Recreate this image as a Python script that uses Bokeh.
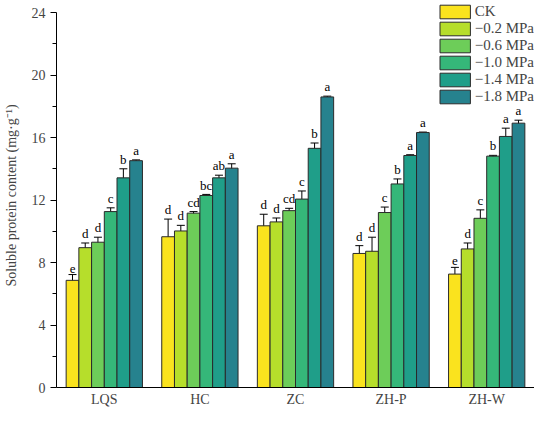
from bokeh.plotting import figure
from bokeh.models import (ColumnDataSource, FactorRange, Whisker, TeeHead, Legend,
                          LegendItem, Range1d, FixedTicker)
from bokeh.transform import dodge
from bokeh.core.properties import value
from bokeh.embed import file_html
from bokeh.resources import INLINE

sites = ["LQS", "HC", "ZC", "ZH-P", "ZH-W"]
treatments = ["CK", "\u22120.2 MPa", "\u22120.6 MPa", "\u22121.0 MPa", "\u22121.4 MPa", "\u22121.8 MPa"]
colors = ["#FAE31E", "#B6DE2B", "#6DCD59", "#35B779", "#1F9E89", "#26828E"]
yticks = [0, 4, 8, 12, 16, 20, 24]

means = {
    "CK":   [6.86, 9.65, 10.35, 8.58, 7.26],
    "m02":  [8.95, 10.02, 10.60, 8.72, 8.87],
    "m06":  [9.30, 11.16, 11.32, 11.20, 10.83],
    "m10":  [11.26, 12.29, 12.06, 13.03, 14.81],
    "m14":  [13.42, 13.42, 15.31, 14.85, 16.07],
    "m18":  [14.52, 14.04, 18.60, 16.32, 16.92],
}
errors = {
    "CK":   [0.37, 1.13, 0.74, 0.50, 0.43],
    "m02":  [0.30, 0.36, 0.25, 0.90, 0.38],
    "m06":  [0.32, 0.10, 0.15, 0.35, 0.54],
    "m10":  [0.24, 0.07, 0.52, 0.32, 0.05],
    "m14":  [0.58, 0.17, 0.34, 0.05, 0.53],
    "m18":  [0.05, 0.28, 0.05, 0.03, 0.19],
}
letters = {
    "CK":   ["e", "d", "d", "d", "e"],
    "m02":  ["d", "d", "d", "d", "d"],
    "m06":  ["d", "cd", "cd", "c", "c"],
    "m10":  ["c", "bc", "c", "b", "b"],
    "m14":  ["b", "ab", "b", "a", "a"],
    "m18":  ["a", "a", "a", "a", "a"],
}
keys = ["CK", "m02", "m06", "m10", "m14", "m18"]

SERIF = "Liberation Serif"

p = figure(x_range=FactorRange(*sites, range_padding=0), y_range=Range1d(0, 24.58),
           width=534, height=409, output_backend="svg", toolbar_location=None,
           min_border_left=52, min_border_right=0, min_border_top=3, min_border_bottom=22)
p.outline_line_color = None
p.grid.grid_line_color = None
p.background_fill_color = "white"

bw = 0.133
items = []
for j, k in enumerate(keys):
    off = (j - 2.5) * bw
    up = [m + e for m, e in zip(means[k], errors[k])]
    lo = [m - e for m, e in zip(means[k], errors[k])]
    src = ColumnDataSource(dict(site=sites, val=means[k], upper=up, lower=lo,
                                lab=letters[k], ly=[u + 0.12 for u in up]))
    r = p.vbar(x=dodge("site", off, range=p.x_range), top="val", width=bw, bottom=0,
               source=src, fill_color=colors[j], line_color="#2a2a2a", line_width=1)
    items.append(LegendItem(label=treatments[j], renderers=[r]))
    w = Whisker(base=dodge("site", off, range=p.x_range), upper="upper", lower="lower",
                source=src, line_color="black", line_width=1,
                upper_head=TeeHead(size=8, line_color="black", line_width=1),
                lower_head=TeeHead(size=8, line_color="black", line_width=1))
    p.add_layout(w)
    p.text(x=dodge("site", off, range=p.x_range), y="ly", text="lab", source=src,
           text_align="center", text_baseline="bottom", text_font=value(SERIF),
           text_font_size="13px", text_color="black")

legend = Legend(items=items, location="top_right", glyph_width=38, glyph_height=17,
                spacing=0, padding=0, margin=0, label_standoff=1,
                label_text_font=SERIF, label_text_font_size="15px",
                label_height=17, border_line_color=None, background_fill_alpha=0)
p.add_layout(legend)

p.yaxis.bounds = (yticks[0], yticks[-1])
p.yaxis.ticker = FixedTicker(ticks=yticks, minor_ticks=[2, 6, 10, 14, 18, 22])
p.yaxis.axis_label = "Soluble protein content (mg\u00b7g\u207b\u00b9)"
p.yaxis.axis_label_text_font = SERIF
p.yaxis.axis_label_text_font_style = "normal"
p.yaxis.axis_label_text_font_size = "14px"
p.yaxis.axis_label_standoff = 10
p.yaxis.major_label_text_font = SERIF
p.yaxis.major_label_text_font_size = "14px"
p.yaxis.major_tick_out = 6
p.yaxis.major_tick_in = 0
p.yaxis.minor_tick_out = 4
p.yaxis.minor_tick_in = 0
p.yaxis.axis_line_color = "black"
p.yaxis.major_tick_line_color = "black"
p.yaxis.minor_tick_line_color = "black"

p.xaxis.major_tick_line_color = None
p.xaxis.minor_tick_line_color = None
p.xaxis.major_tick_out = 0
p.xaxis.major_label_standoff = 4
p.xaxis.major_label_text_font = SERIF
p.xaxis.major_label_text_font_size = "14px"
p.xaxis.axis_line_color = "black"

open("out.html", "w").write(file_html(p, INLINE))
